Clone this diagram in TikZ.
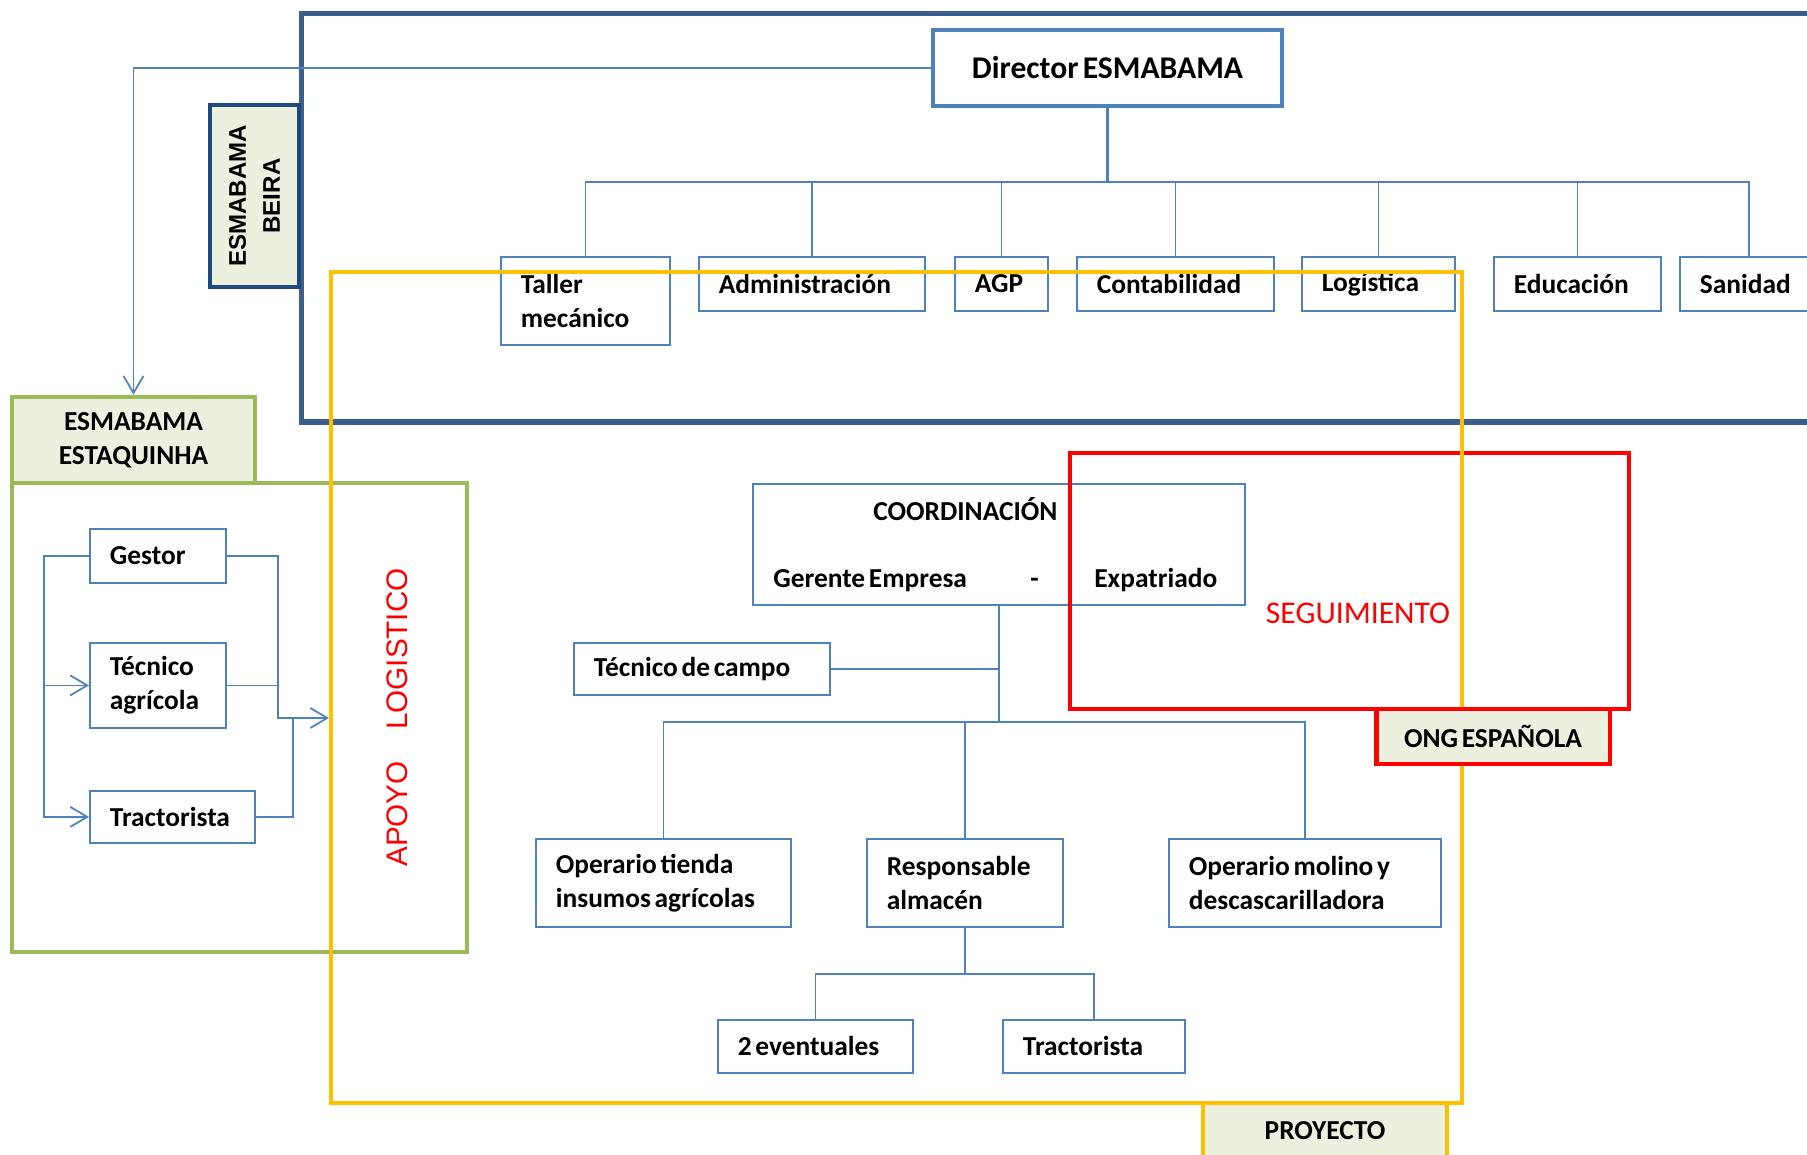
\documentclass[tikz,border=0pt]{standalone}
\usepackage{fontspec}
\setmainfont{Carlito}[WordSpace=0.6]
\newfontfamily\arialfont{Liberation Sans}
\usepackage{xcolor}
\usepackage{tikz}
\usetikzlibrary{arrows.meta}

\definecolor{cajaazul}{HTML}{4F81BD}
\definecolor{marcoazul}{HTML}{3A5F8E}
\definecolor{marinoazul}{HTML}{1F497D}
\definecolor{verdeoliva}{HTML}{9BBB59}
\definecolor{fondoverde}{HTML}{EBF1DE}
\definecolor{amarillo}{HTML}{FFC000}
\definecolor{rojo}{HTML}{FF0000}

\newcommand{\fcaja}{\bfseries\fontsize{15.6}{19.3}\selectfont}

\tikzset{
  caja/.code 2 args={\pgfmathsetlengthmacro\cajaw{#1*0.02cm-0.8cm}%
    \pgfmathsetlengthmacro\cajah{#2*0.02cm}%
    \tikzset{text width/.expanded=\cajaw, minimum height/.expanded=\cajah}},
  base/.style={draw=cajaazul, line width=1pt, fill=white, font=\fcaja, align=flush left,
    inner xsep=0.4cm, inner ysep=0pt, anchor=north west,
    execute at begin node={\hyphenpenalty=10000}},
  lineaorg/.style={draw=cajaazul, line width=1pt},
  flecha/.style={lineaorg, -{Straight Barb[length=0.34cm, width=0.4cm]}},
  etiqueta/.style={fill=fondoverde, font=\fcaja, align=center, inner sep=0pt},
  texto/.style={font=\fcaja, anchor=base west, inner sep=0pt}
}

\begin{document}
\begin{tikzpicture}[x=0.02cm, y=-0.02cm]
    \useasboundingbox (0,0) rectangle (1807,1155);
    \clip (0,0) rectangle (1807,1155);

    % marcos
    \draw[marcoazul, line width=2.85pt] (301,14) rectangle (1840,422);
    \draw[verdeoliva, line width=2.6pt] (12,483) rectangle (467,952);

    % ESMABAMA Beira
    \node[base, anchor=center, align=center, inner xsep=0pt, line width=2.3pt,
        minimum width=6.98cm, minimum height=1.52cm,
        font=\bfseries\fontsize{18}{22}\selectfont] (director) at (1107.5,68) {Director ESMABAMA};
    \node[base, caja={169}{88}] (taller) at (500,256) {Taller\\mecánico};
    \node[base, caja={226}{54}] (admin) at (698,256) {Administración};
    \node[base, caja={93}{54}] (agp) at (954,256) {AGP};
    \node[base, caja={197}{54}] (conta) at (1076,256) {Contabilidad};
    \node[base, caja={153}{54}] (logis) at (1301,256) {Logística};
    \node[base, caja={167}{54}] (educ) at (1493,256) {Educación};
    \node[base, caja={138}{54}] (sanid) at (1679,256) {Sanidad};

    \draw[lineaorg, line width=1.5pt] (director.south) -- ++(0,74);
    \foreach \n in {taller,admin,agp,conta,logis,educ,sanid}
        \draw[lineaorg] (director.south) -- ++(0,74) -| (\n.north);

    % ESMABAMA Estaquinha
    \node[base, caja={136}{54}] (gestor) at (89,528) {Gestor};
    \node[base, caja={136}{85}] (tecagr) at (89,642) {Técnico\\agrícola};
    \node[base, caja={165}{52}] (tractA) at (89,790) {Tractorista};

    \coordinate (junta) at (278,718);
    \coordinate (junta2) at (293,718);
    \coordinate (entrada) at (329,718);
    \draw[flecha] (gestor.west) -- ++(-45,0) coordinate (busizq) |- (tractA.west);
    \draw[flecha] (busizq) |- (tecagr.west);
    \draw[flecha] (gestor.east) -| (junta) -- (entrada);
    \draw[lineaorg] (tecagr.east) -- (tecagr.east -| junta);
    \draw[lineaorg] (tractA.east) -| (junta2);

    % proyecto
    \node[base, minimum width=9.84cm, minimum height=2.42cm] (coord) at (752,483) {};
    \node[texto] (coordtit) at (873,520) {COORDINACIÓN};
    \node[texto] (gerente) at (773,587) {Gerente Empresa};
    \node[texto] (guion) at (1030,587) {-};
    \node[texto] (expat) at (1094,587) {Expatriado};

    \node[base, caja={256}{52}] (tcampo) at (573,642) {Técnico de campo};
    \node[base, caja={255}{88}] (optienda) at (535,838) {Operario tienda\\insumos agrícolas};
    \node[base, caja={196}{88}] (resp) at (866,838) {Responsable\\almacén};
    \node[base, caja={272}{88}] (opmolino) at (1168,838) {Operario molino y\\descascarilladora};
    \node[base, caja={195}{53}] (eventu) at (717,1019) {2 eventuales};
    \node[base, caja={182}{53}] (tractB) at (1002,1019) {Tractorista};

    \draw[lineaorg] (tcampo.east) -- (tcampo.east -| coord.south);
    \foreach \n in {optienda,resp,opmolino}
        \draw[lineaorg] (coord.south) -- ++(0,116) -| (\n.north);
    \foreach \n in {eventu,tractB}
        \draw[lineaorg] (resp.south) -- ++(0,46) -| (\n.north);

    % seguimiento y proyecto
    \draw[rojo, line width=2.8pt] (1070,453) rectangle (1629,709);
    \draw[amarillo, line width=2.6pt] (331,272) rectangle (1462,1103);

    % etiquetas
    \node[etiqueta, draw=marinoazul, line width=2.8pt, rotate=90,
        minimum width=3.64cm, minimum height=1.78cm,
        font=\arialfont\bfseries\fontsize{13.7}{19.3}\selectfont] (beira) at (254.5,196) {ESMABAMA\\BEIRA};
    \node[etiqueta, draw=verdeoliva, line width=2.6pt, minimum width=4.86cm,
        minimum height=1.72cm] (estaq) at (133.5,440) {ESMABAMA\\ESTAQUINHA};
    \node[etiqueta, draw=rojo, line width=2.8pt, minimum width=4.68cm,
        minimum height=1.1cm] (ong) at (1493,736.5) {ONG ESPAÑOLA};
    \node[etiqueta, draw=amarillo, line width=2.6pt, minimum width=4.88cm,
        minimum height=1.12cm] (proy) at (1325,1131) {PROYECTO};

    \draw[flecha] (director.west) -| (estaq.north);

    \node[text=rojo, font=\fontsize{18}{22}\selectfont] (seguim) at (1358,613) {SEGUIMIENTO};
    \node[text=rojo, rotate=90, font=\arialfont\fontsize{16.9}{20}\selectfont] (apoyo)
        at (397,717.5) {APOYO\hspace{1.05em}LOGISTICO};
\end{tikzpicture}
\end{document}
